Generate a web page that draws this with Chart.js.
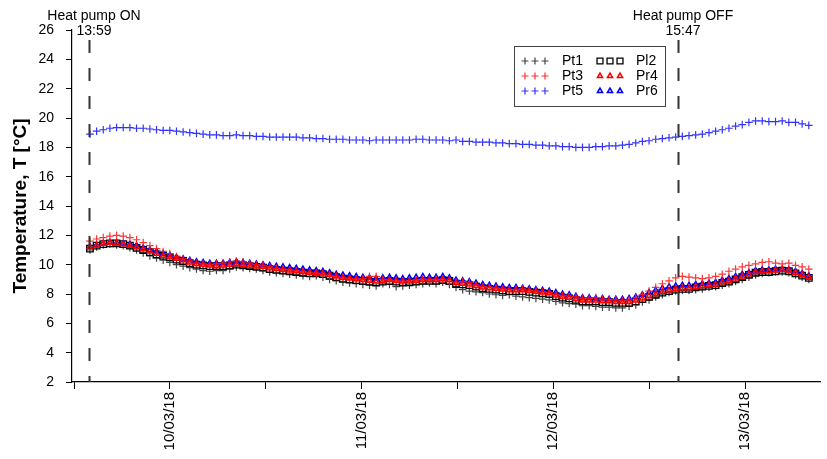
<!DOCTYPE html>
<html>
<head>
<meta charset="utf-8">
<script src="https://cdn.jsdelivr.net/npm/chart.js@4.4.1/dist/chart.umd.min.js"></script>
<style>
  html, body { margin: 0; padding: 0; background: #fff; }
</style>
</head>
<body>
<canvas id="myChart" width="827" height="459"></canvas>
<script>
// logger readings every 50 min, starting at heat pump switch-on (09/03/18 13:59)
const startDay = 9 + (13 * 60 + 59) / 1440;
const stepMin = 50;
const pumpEvents = [
    { label: 'Heat pump ON', time: '13:59', day: startDay },
    { label: 'Heat pump OFF', time: '15:47', day: 12 + (15 * 60 + 47) / 1440 }
];
const dayTicks = [9.5, 10, 10.5, 11, 11.5, 12, 12.5, 13];
const yTicks = [2, 4, 6, 8, 10, 12, 14, 16, 18, 20, 22, 24, 26];

const pt1 = [
    11.0, 11.2, 11.35, 11.4, 11.35, 11.3, 11.15, 11.0, 10.8, 10.6,
    10.45, 10.3, 10.15, 10.0, 9.9, 9.8, 9.7, 9.6, 9.55, 9.6,
    9.6, 9.7, 9.85, 9.8, 9.75, 9.7, 9.6, 9.5, 9.45, 9.4,
    9.35, 9.3, 9.25, 9.2, 9.25, 9.15, 9.0, 8.9, 8.8, 8.75,
    8.7, 8.65, 8.6, 8.55, 8.7, 8.65, 8.5, 8.55, 8.6, 8.65,
    8.7, 8.75, 8.7, 8.8, 8.65, 8.45, 8.3, 8.2, 8.15, 8.1,
    8.0, 7.95, 7.9, 7.95, 7.85, 7.8, 7.75, 7.7, 7.65, 7.6,
    7.5, 7.4, 7.35, 7.3, 7.2, 7.2, 7.15, 7.1, 7.1, 7.05,
    7.05, 7.15, 7.25, 7.45, 7.6, 7.8, 7.95, 8.1, 8.2, 8.25,
    8.25, 8.3, 8.35, 8.45, 8.5, 8.6, 8.7, 8.85, 9.0, 9.15,
    9.3, 9.4, 9.45, 9.5, 9.5, 9.45, 9.3, 9.15, 9.0
];
const pl2 = [
    11.1, 11.3, 11.4, 11.45, 11.45, 11.4, 11.3, 11.15, 11.0, 10.85,
    10.7, 10.6, 10.5, 10.35, 10.25, 10.1, 10.0, 9.95, 9.9, 9.9,
    9.9, 9.95, 10.0, 9.95, 9.9, 9.85, 9.8, 9.7, 9.65, 9.6,
    9.55, 9.5, 9.45, 9.4, 9.4, 9.35, 9.25, 9.15, 9.05, 9.0,
    8.95, 8.9, 8.85, 8.8, 8.85, 8.9, 8.85, 8.8, 8.8, 8.85,
    8.9, 8.9, 8.9, 8.95, 8.9, 8.7, 8.65, 8.6, 8.5, 8.4,
    8.35, 8.3, 8.25, 8.2, 8.2, 8.2, 8.15, 8.1, 8.05, 8.0,
    7.85, 7.75, 7.7, 7.6, 7.5, 7.5, 7.5, 7.45, 7.45, 7.4,
    7.4, 7.4, 7.5, 7.65, 7.8, 7.95, 8.1, 8.2, 8.3, 8.35,
    8.35, 8.45, 8.5, 8.55, 8.6, 8.75, 8.85, 9.0, 9.15, 9.3,
    9.45, 9.5, 9.5, 9.55, 9.6, 9.55, 9.4, 9.25, 9.1
];
const pt3 = [
    11.6, 11.75, 11.85, 11.95, 12.0, 11.95, 11.85, 11.7, 11.5, 11.3,
    11.1, 10.9, 10.75, 10.55, 10.4, 10.25, 10.1, 10.05, 10.0, 10.05,
    10.1, 10.2, 10.25, 10.2, 10.1, 10.0, 9.95, 9.85, 9.75, 9.7,
    9.65, 9.6, 9.5, 9.45, 9.4, 9.35, 9.25, 9.2, 9.1, 9.05,
    9.0, 9.05, 9.2, 9.2, 9.0, 8.95, 8.9, 8.85, 8.9, 8.95,
    9.0, 8.95, 9.0, 8.95, 8.85, 8.8, 8.85, 8.8, 8.6, 8.5,
    8.45, 8.4, 8.35, 8.3, 8.3, 8.35, 8.25, 8.2, 8.15, 8.1,
    7.95, 7.9, 7.85, 7.8, 7.7, 7.7, 7.75, 7.65, 7.6, 7.6,
    7.55, 7.6, 7.75, 7.95, 8.2, 8.45, 8.7, 8.9, 9.1, 9.2,
    9.15, 9.1, 9.05, 9.1, 9.2, 9.35, 9.55, 9.7, 9.85, 9.95,
    10.05, 10.15, 10.2, 10.1, 10.05, 10.1, 9.95, 9.85, 9.7
];
const pr4 = [
    11.2, 11.3, 11.45, 11.5, 11.45, 11.4, 11.3, 11.2, 11.05, 10.9,
    10.75, 10.6, 10.5, 10.4, 10.3, 10.15, 10.05, 10.0, 9.95, 9.9,
    9.95, 10.0, 10.05, 10.0, 9.95, 9.9, 9.85, 9.75, 9.7, 9.65,
    9.6, 9.55, 9.5, 9.45, 9.45, 9.4, 9.3, 9.2, 9.1, 9.05,
    9.0, 8.95, 8.9, 8.85, 8.9, 8.95, 8.9, 8.85, 8.85, 8.9,
    8.95, 8.95, 8.95, 9.0, 8.95, 8.75, 8.7, 8.65, 8.55, 8.45,
    8.4, 8.35, 8.3, 8.25, 8.25, 8.25, 8.2, 8.15, 8.1, 8.05,
    7.9, 7.8, 7.75, 7.65, 7.55, 7.55, 7.55, 7.5, 7.5, 7.45,
    7.45, 7.45, 7.55, 7.7, 7.85, 8.0, 8.15, 8.25, 8.35, 8.4,
    8.4, 8.5, 8.55, 8.6, 8.65, 8.8, 8.9, 9.05, 9.2, 9.35,
    9.5, 9.55, 9.55, 9.6, 9.65, 9.6, 9.45, 9.3, 9.15
];
const pt5 = [
    18.9, 19.1, 19.2, 19.3, 19.35, 19.35, 19.35, 19.3, 19.3, 19.25,
    19.2, 19.15, 19.15, 19.1, 19.05, 19.0, 18.95, 18.9, 18.85, 18.85,
    18.8, 18.8, 18.85, 18.8, 18.8, 18.75, 18.75, 18.7, 18.7, 18.7,
    18.7, 18.7, 18.65, 18.65, 18.6, 18.6, 18.55, 18.55, 18.55, 18.5,
    18.5, 18.5, 18.45, 18.5, 18.5, 18.5, 18.5, 18.5, 18.5, 18.55,
    18.55, 18.5, 18.5, 18.5, 18.45, 18.5, 18.4, 18.4, 18.35, 18.35,
    18.35, 18.3, 18.3, 18.25, 18.25, 18.2, 18.2, 18.15, 18.15, 18.1,
    18.1, 18.05, 18.05, 18.0, 18.0, 18.0, 18.05, 18.05, 18.1, 18.1,
    18.15, 18.2, 18.3, 18.4, 18.45, 18.55, 18.6, 18.65, 18.7, 18.75,
    18.8, 18.85, 18.9, 19.0, 19.1, 19.2, 19.3, 19.45, 19.55, 19.7,
    19.8, 19.8, 19.75, 19.75, 19.8, 19.7, 19.7, 19.6, 19.5
];
const pr6 = [
    11.2, 11.35, 11.45, 11.5, 11.5, 11.45, 11.4, 11.3, 11.15, 11.0,
    10.9, 10.75, 10.65, 10.5, 10.4, 10.3, 10.2, 10.15, 10.1, 10.1,
    10.1, 10.15, 10.2, 10.15, 10.1, 10.05, 10.0, 9.95, 9.9, 9.85,
    9.8, 9.75, 9.7, 9.65, 9.6, 9.55, 9.45, 9.35, 9.3, 9.25,
    9.2, 9.15, 9.1, 9.05, 9.1, 9.15, 9.1, 9.05, 9.1, 9.15,
    9.2, 9.15, 9.15, 9.2, 9.1, 8.95, 8.9, 8.85, 8.75, 8.65,
    8.6, 8.55, 8.5, 8.45, 8.45, 8.4, 8.35, 8.3, 8.25, 8.2,
    8.1, 8.0, 7.95, 7.85, 7.75, 7.75, 7.7, 7.7, 7.65, 7.65,
    7.65, 7.7, 7.8, 7.95, 8.1, 8.25, 8.4, 8.5, 8.55, 8.6,
    8.6, 8.65, 8.7, 8.75, 8.8, 8.95, 9.05, 9.2, 9.35, 9.45,
    9.6, 9.65, 9.65, 9.7, 9.7, 9.65, 9.55, 9.4, 9.25
];

const FONT = "'Liberation Sans', Arial, sans-serif";

function toPoints(values) {
    return values.map((v, i) => ({ x: startDay + i * stepMin / 1440, y: v }));
}

function dayLabel(v) {
    if (Math.abs(v - Math.round(v)) > 1e-6) return '';
    return String(Math.round(v)).padStart(2, '0') + '/03/18';
}

// heat pump markers: dashed verticals + captions
const pumpPlugin = {
    id: 'pumpLines',
    afterDatasetsDraw(chart) {
        const { ctx, chartArea, scales } = chart;
        ctx.save();
        pumpEvents.forEach(ev => {
            const px = Math.round(scales.x.getPixelForValue(ev.day)) - 0.5;
            ctx.strokeStyle = '#333';
            ctx.lineWidth = 2;
            ctx.setLineDash([13, 15]);
            ctx.beginPath();
            ctx.moveTo(px, chartArea.top + 10);
            ctx.lineTo(px, chartArea.bottom);
            ctx.stroke();
            ctx.setLineDash([]);
            ctx.fillStyle = '#000';
            ctx.font = '14px ' + FONT;
            ctx.textAlign = 'center';
            ctx.textBaseline = 'middle';
            ctx.fillText(ev.label, px + 4.5, 16);
            ctx.fillText(ev.time, px + 4.5, 31);
        });
        ctx.restore();
    }
};

// boxed legend in two columns, three markers per entry
const boxLegend = {
    id: 'boxLegend',
    afterDraw(chart) {
        const ctx = chart.ctx;
        ctx.save();
        ctx.fillStyle = '#fff';
        ctx.fillRect(514.5, 46.5, 151, 60);
        ctx.strokeStyle = '#444';
        ctx.lineWidth = 1;
        ctx.strokeRect(514.5, 46.5, 151, 60);
        chart.data.datasets.forEach((ds, i) => {
            const col = i % 2;
            const y = 61 + Math.floor(i / 2) * 15;
            const x0 = col ? 600 : 525;
            ctx.strokeStyle = ds.borderColor;
            ctx.fillStyle = ds.backgroundColor;
            ctx.lineWidth = ds.borderWidth;
            for (let k = 0; k < 3; k++) {
                Chart.helpers.drawPoint(ctx, {
                    pointStyle: ds.pointStyle,
                    radius: ds.legendRadius,
                    borderWidth: ds.borderWidth,
                    rotation: 0
                }, x0 + k * 10, y);
            }
            ctx.fillStyle = '#000';
            ctx.font = '14px ' + FONT;
            ctx.textAlign = 'left';
            ctx.textBaseline = 'middle';
            ctx.fillText(ds.label, col ? 636 : 562, y);
        });
        ctx.restore();
    }
};

const ctx = document.getElementById('myChart').getContext('2d');
new Chart(ctx, {
    type: 'scatter',
    data: {
        datasets: [
            { label: 'Pt1', data: toPoints(pt1), pointStyle: 'cross', pointRadius: 3.8, legendRadius: 3.5,
              borderColor: 'rgba(20,20,20,0.8)', backgroundColor: 'rgba(0,0,0,0)', borderWidth: 1.2, order: 6 },
            { label: 'Pl2', data: toPoints(pl2), pointStyle: 'rect', pointRadius: 4.6, legendRadius: 4.2,
              borderColor: '#000', backgroundColor: 'rgba(0,0,0,0)', borderWidth: 1.3, order: 5 },
            { label: 'Pt3', data: toPoints(pt3), pointStyle: 'cross', pointRadius: 3.8, legendRadius: 3.5,
              borderColor: 'rgba(255,30,30,0.9)', backgroundColor: 'rgba(0,0,0,0)', borderWidth: 1.2, order: 3 },
            { label: 'Pr4', data: toPoints(pr4), pointStyle: 'triangle', pointRadius: 3, legendRadius: 3,
              borderColor: '#ff0000', backgroundColor: 'rgba(0,0,0,0)', borderWidth: 1.5, order: 2 },
            { label: 'Pt5', data: toPoints(pt5), pointStyle: 'cross', pointRadius: 3.8, legendRadius: 3.5,
              borderColor: 'rgba(30,30,255,0.9)', backgroundColor: 'rgba(0,0,0,0)', borderWidth: 1.2, order: 1 },
            { label: 'Pr6', data: toPoints(pr6), pointStyle: 'triangle', pointRadius: 3, legendRadius: 3,
              borderColor: '#0000ff', backgroundColor: 'rgba(0,0,0,0)', borderWidth: 1.5, order: 4 }
        ]
    },
    options: {
        responsive: false,
        animation: false,
        devicePixelRatio: 1,
        events: [],
        layout: { padding: { left: 0, top: 30, right: 7, bottom: 0 } },
        plugins: { legend: { display: false }, tooltip: { enabled: false } },
        scales: {
            x: {
                type: 'linear',
                min: 9.489,
                max: 13.391,
                afterBuildTicks: s => { s.ticks = dayTicks.map(v => ({ value: v })); },
                afterFit: s => { s.height = 77; },
                border: { display: true, color: '#000', width: 1.2 },
                grid: { drawOnChartArea: false, drawTicks: true, tickLength: 7, color: '#000' },
                ticks: {
                    autoSkip: false, minRotation: 90, maxRotation: 90, padding: 3,
                    color: '#000', font: { family: FONT, size: 15 },
                    callback: v => dayLabel(v)
                }
            },
            y: {
                min: 2,
                max: 26,
                afterBuildTicks: s => { s.ticks = yTicks.map(v => ({ value: v })); },
                afterFit: s => { s.width = 72; },
                border: { display: true, color: '#000', width: 1.2 },
                grid: { drawOnChartArea: false, drawTicks: true, tickLength: 6, color: '#000' },
                ticks: { padding: 12, color: '#000', font: { family: FONT, size: 14 } },
                title: {
                    display: true, text: 'Temperature, T [°C]', color: '#000',
                    font: { family: FONT, size: 19, weight: 'bold' }, padding: { top: 9, bottom: 0 }
                }
            }
        }
    },
    plugins: [pumpPlugin, boxLegend]
});
</script>
</body>
</html>
